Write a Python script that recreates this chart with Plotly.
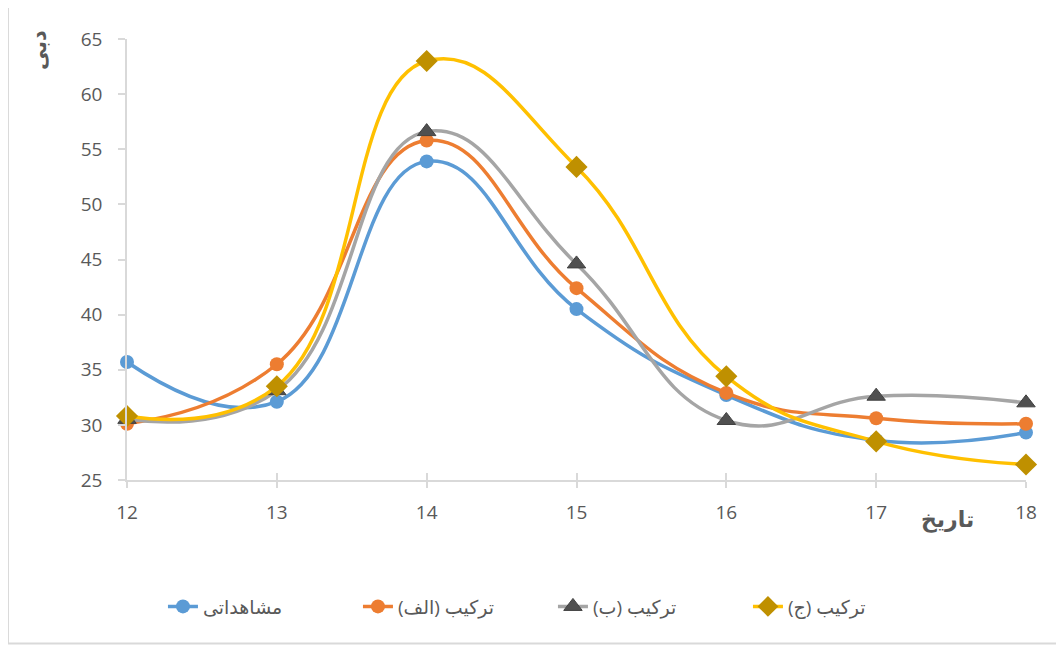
import plotly.graph_objects as go

dates = [12, 13, 14, 15, 16, 17, 18]
observed = [35.7, 32.1, 53.9, 40.5, 32.7, 28.6, 29.3]
combo_a = [30.1, 35.5, 55.8, 42.4, 32.9, 30.6, 30.1]
combo_b = [30.5, 33.1, 56.6, 44.6, 30.4, 32.6, 32.0]
combo_c = [30.8, 33.5, 63.0, 53.4, 34.4, 28.5, 26.4]

names = ["مشاهداتی", "\u200fترکیب (الف)\u200f", "\u200fترکیب (ب)\u200f", "\u200fترکیب (ج)\u200f"]
y_ticks = [25, 30, 35, 40, 45, 50, 55, 60, 65]

FONT = "Open Sans, DejaVu Sans, sans-serif"
TXT = "#595959"

series = [
    (observed, names[0], "#5B9BD5", dict(symbol="circle", size=14, color="#5B9BD5")),
    (combo_a, names[1], "#ED7D31", dict(symbol="circle", size=14, color="#ED7D31")),
    (combo_b, names[2], "#A5A5A5", dict(symbol="triangle-up", size=16, color="#505050",
                                         line=dict(color="#404040", width=1))),
    (combo_c, names[3], "#FFC000", dict(symbol="diamond", size=17, color="#BF9000")),
]

fig = go.Figure()
for vals, nm, col, mk in series:
    fig.add_trace(go.Scatter(
        x=dates, y=vals, name=nm, mode="lines+markers",
        line=dict(color=col, width=3.5, shape="spline", smoothing=1.3),
        marker=mk, cliponaxis=False,
    ))

# invisible trace for the inner half of the cross ticks
fig.add_trace(go.Scatter(x=dates, y=observed, xaxis="x2", mode="lines",
                         line=dict(width=0), opacity=0, showlegend=False,
                         hoverinfo="skip"))

fig.update_layout(
    width=1064, height=646,
    margin=dict(l=119, r=46, t=31, b=174),
    paper_bgcolor="white", plot_bgcolor="white",
    font=dict(family=FONT, size=18, color=TXT),
    xaxis=dict(range=[12, 18], tickvals=dates, ticks="outside", ticklen=6,
               tickcolor="#D9D9D9", tickwidth=1.5, showline=True,
               linecolor="#D9D9D9", linewidth=1.5, showgrid=False,
               zeroline=False, ticklabelstandoff=8,
               tickfont=dict(size=19, color=TXT, family=FONT)),
    xaxis2=dict(range=[12, 18], tickvals=dates, ticks="inside", ticklen=7,
                tickcolor="#D9D9D9", tickwidth=1.5, overlaying="x",
                anchor="y", side="bottom", showticklabels=False,
                showline=False, showgrid=False, zeroline=False),
    yaxis=dict(range=[25, 65], tickvals=y_ticks, ticks="outside", ticklen=7,
               tickcolor="#D9D9D9", tickwidth=1.5, showline=True,
               linecolor="#D9D9D9", linewidth=1.5, showgrid=False,
               zeroline=False, ticklabelstandoff=12,
               tickfont=dict(size=19, color=TXT, family=FONT)),
    legend=dict(orientation="h", x=0.04, xanchor="left", y=-0.287,
                yanchor="middle", font=dict(size=19, color=TXT, family=FONT),
                entrywidth=150, entrywidthmode="pixels",
                bgcolor="rgba(0,0,0,0)"),
    showlegend=True,
)

fig.add_annotation(text="<b>دبی</b>", xref="paper", yref="paper",
                   x=-0.099, y=0.975, xanchor="center", yanchor="middle",
                   textangle=-90, showarrow=False,
                   font=dict(size=21, color=TXT, family=FONT))
fig.add_annotation(text="<b>تاریخ</b>", xref="paper", yref="paper",
                   x=0.913, y=-0.086, xanchor="center", yanchor="middle",
                   showarrow=False,
                   font=dict(size=22, color=TXT, family=FONT))

fig.add_shape(type="rect", xref="paper", yref="paper",
              x0=-0.1324, x1=1.06, y0=-0.371, y1=1.0724,
              line=dict(color="#D9D9D9", width=2), layer="below")

fig.write_html("out.html")
